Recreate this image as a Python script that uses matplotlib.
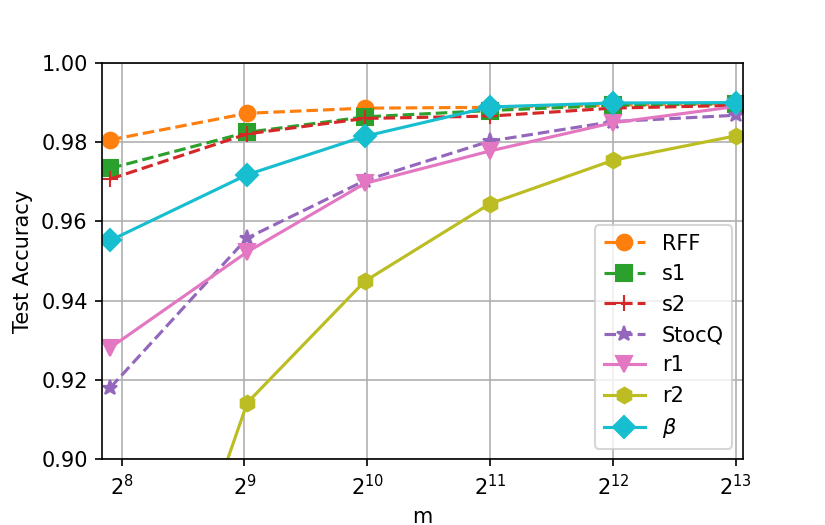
import matplotlib
matplotlib.use('Agg')
import matplotlib.pyplot as plt

m = [240, 520, 1010, 2050, 4090, 8192]

rff = [0.9806, 0.9873, 0.9886, 0.9888, 0.9894, 0.9898]
s1 = [0.9734, 0.9825, 0.9864, 0.9880, 0.9893, 0.9897]
s2 = [0.9707, 0.9821, 0.9860, 0.9866, 0.9886, 0.9893]
stocq = [0.9180, 0.9558, 0.9703, 0.9803, 0.9852, 0.9868]
r1 = [0.9281, 0.9523, 0.9696, 0.9778, 0.9849, 0.9890]
r2 = [0.8147, 0.9142, 0.9449, 0.9645, 0.9754, 0.9816]
beta = [0.9552, 0.9718, 0.9815, 0.9889, 0.9899, 0.9900]

fig = plt.figure(figsize=(5.5, 3.5), dpi=150)
ax = fig.add_axes([0.124, 0.1257, 0.7762, 0.7543])

ms = 7.5
ax.plot(m, rff, '--o', color='tab:orange', label='RFF', markersize=ms)
ax.plot(m, s1, '--s', color='tab:green', label='s1', markersize=ms)
ax.plot(m, s2, '--+', color='tab:red', label='s2', markersize=ms)
ax.plot(m, stocq, '--*', color='tab:purple', label='StocQ', markersize=ms)
ax.plot(m, r1, '-v', color='tab:pink', label='r1', markersize=ms)
ax.plot(m, r2, '-h', color='tab:olive', label='r2', markersize=ms)
ax.plot(m, beta, '-D', color='tab:cyan', label=r'$\beta$', markersize=ms)

ax.set_xscale('log', base=2)
ax.set_xticks([2**8, 2**9, 2**10, 2**11, 2**12, 2**13])
ax.set_xlim(2**7.842, 2**13.057)
ax.set_ylim(0.90, 1.00)
ax.grid(True)
ax.set_xlabel('m')
ax.set_ylabel('Test Accuracy')
ax.legend(loc='lower right')

fig.savefig('out.png', dpi=150)
